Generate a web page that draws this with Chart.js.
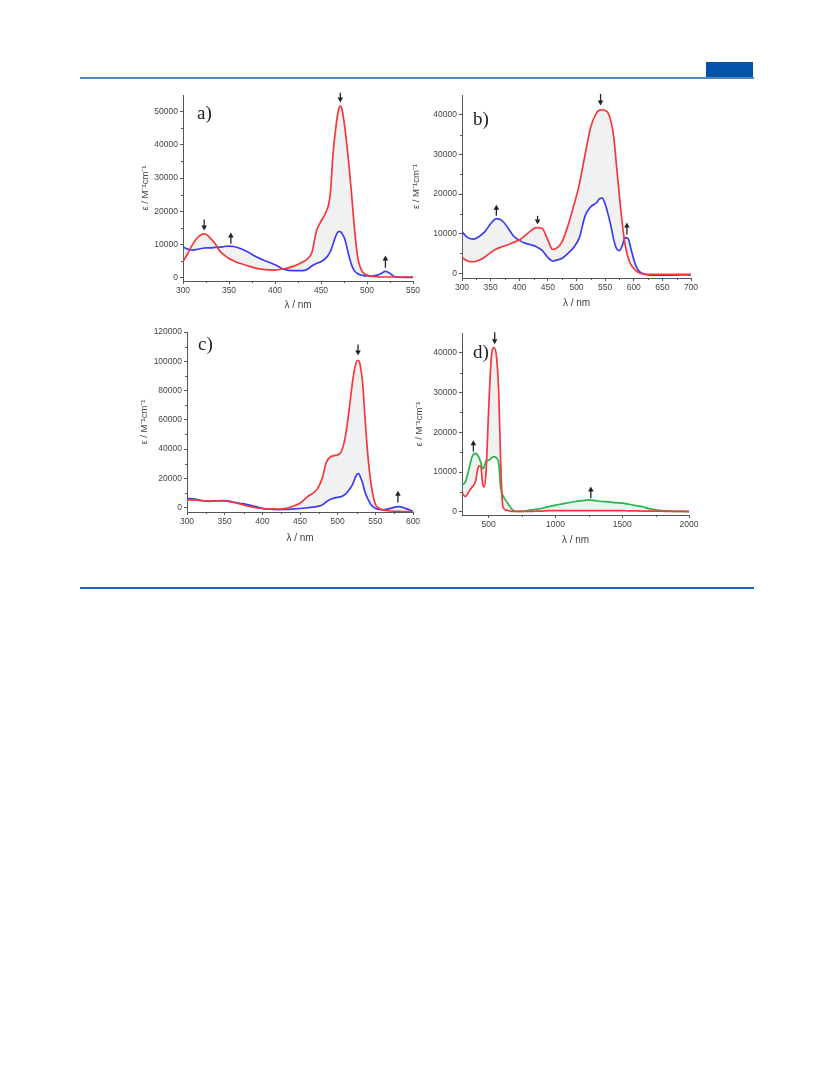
<!DOCTYPE html>
<html>
<head>
<meta charset="utf-8">
<script src="https://cdn.jsdelivr.net/npm/chart.js@4/dist/chart.umd.min.js"></script>
<style>
  body { margin: 0; background: #fff; width: 833px; height: 1091px; position: relative; overflow: hidden; }
  canvas { position: absolute; }
  .rule { position: absolute; left: 80px; width: 674px; height: 2px; }
  #topline { top: 77px; background: #4f86c8; }
  #botline { top: 587px; background: #1d63c4; }
  #tab { position: absolute; left: 706px; top: 62px; width: 47px; height: 16px; background: #0353a8; }
  .lbl { position: absolute; font-family: "Liberation Serif", "DejaVu Serif", serif; font-size: 19px; line-height: 19px; color: #222; }
</style>
</head>
<body>
<div id="tab"></div>
<div id="topline" class="rule"></div>
<div id="botline" class="rule"></div>

<canvas id="cA" width="295" height="230" style="left:135px;top:88px"></canvas>
<canvas id="cB" width="310" height="230" style="left:406px;top:88px"></canvas>
<canvas id="cC" width="295" height="230" style="left:135px;top:322px"></canvas>
<canvas id="cD" width="300" height="230" style="left:409px;top:322px"></canvas>

<div class="lbl" style="left:197px;top:103px">a)</div>
<div class="lbl" style="left:473px;top:109px">b)</div>
<div class="lbl" style="left:198px;top:334px">c)</div>
<div class="lbl" style="left:473px;top:342px">d)</div>

<script>
// ---- panel a ----
const wlA = [300,305,310,315,320,323,326,330,335,340,345,350,355,360,370,380,390,400,410,420,430,435,440,445,450,455,460,463,466,469,471,473,476,480,483,486,490,495,500,505,510,515,520,525,530,540,550];
const redA = [4800,7200,9800,11800,13000,13200,12900,11800,10200,8000,6800,5800,5100,4500,3600,2800,2400,2300,2700,3400,4700,5600,7500,14000,17000,19500,25000,37000,45000,50500,51700,50500,45000,35000,26000,16000,6000,1800,800,400,300,200,200,200,200,200,200];
const blueA = [9200,8600,8300,8500,8800,8900,9000,9000,9100,9200,9400,9500,9400,9000,7800,6200,5000,3900,2500,2100,2100,2500,3500,4300,4800,5800,7800,10000,12500,13900,13900,13200,11500,7000,4000,2200,1200,700,500,500,700,1200,1900,1300,300,100,100];
const xTicksA = [300,350,400,450,500,550];
const yTicksA = [0,10000,20000,30000,40000,50000];
const arrowsA = [[323,17500,14200],[352,10200,13600],[471,55700,52800],[520,3000,6700]];

// ---- panel b ----
const wlB = [300,310,320,330,340,350,360,370,380,390,400,410,420,430,440,450,458,465,475,485,495,505,515,525,535,540,545,550,555,560,565,570,575,580,585,590,595,600,605,610,620,630,650,700];
const redB = [4000,3100,2900,3300,4100,5200,6100,6700,7200,7800,8400,9500,10700,11500,11300,8400,6000,6300,8000,12000,17000,22500,30000,37000,40500,41200,41300,41100,40500,38500,34500,27000,19500,12500,7100,4000,2200,1200,500,100,-200,-250,-250,-250];
const blueB = [10500,9000,8600,9300,10500,12500,13800,13300,11500,9400,8300,7600,7200,6700,5800,4000,3100,3300,3800,5000,6500,9000,14500,16800,17800,18800,19000,17500,15000,12000,8500,6200,5700,7000,9000,8800,6200,3500,1500,400,-300,-500,-500,-400];
const xTicksB = [300,350,400,450,500,550,600,650,700];
const yTicksB = [0,10000,20000,30000,40000];
const arrowsB = [[360,14500,17300],[432,14500,12300],[542,45300,42400],[588,9800,12800]];

// ---- panel c ----
const wlC = [300,310,320,330,340,350,360,370,380,390,400,410,420,430,440,450,460,470,475,480,485,490,495,500,505,510,515,520,523,526,528,530,533,536,540,545,550,555,560,570,580,590,600];
const redC = [5200,5300,4700,4300,4500,4500,3700,2500,1200,200,-600,-1000,-1000,-600,800,3000,7500,11000,14500,21000,31000,34500,35500,36000,38500,48000,66000,87000,96000,100500,100500,97000,86000,64000,36000,14000,2500,-500,-1500,-2300,-2600,-2700,-2800];
const blueC = [6400,5800,4800,4400,4700,4800,4000,3000,2000,800,-500,-1100,-1400,-1300,-1000,-600,-100,500,1000,2000,4000,5500,6500,7000,7500,9000,12000,16000,20000,23000,23300,21000,17000,11000,6000,1500,-500,-1300,-1500,-500,700,-500,-2600];
const xTicksC = [300,350,400,450,500,550,600];
const yTicksC = [0,20000,40000,60000,80000,100000,120000];
const arrowsC = [[527,111500,104000],[580,3500,11500]];

// ---- panel d ----
const wlD = [300,325,350,375,400,425,440,455,465,480,500,520,540,560,575,590,605,625,650,675,700,750,800,850,900,950,1000,1050,1100,1150,1200,1250,1300,1350,1400,1450,1500,1550,1600,1650,1700,1750,1800,1850,1900,1950,2000];
const redD = [4700,3800,5000,6200,7500,11500,11500,7000,6300,10000,26000,39000,41300,38500,30000,12000,1500,500,300,100,100,100,100,150,200,300,300,300,300,300,300,300,300,300,300,300,300,250,250,200,200,150,150,100,100,100,100];
const greenD = [6800,7500,10500,13800,14700,13800,12500,10800,11200,12800,13000,13500,13900,13500,12200,6000,4200,3000,1800,600,100,100,400,600,900,1300,1700,2000,2300,2600,2800,3000,2800,2600,2500,2300,2200,1900,1600,1300,800,500,300,200,100,100,0];
const xTicksD = [500,1000,1500,2000];
const yTicksD = [0,10000,20000,30000,40000];
const arrowsD = [[545,45200,42200],[385,15200,18000],[1265,3400,6400]];

const RED = '#f5383b', BLUE = '#3c3cf0', GREEN = '#25b54a';
const FAN = 'rgba(160,160,160,0.15)', AXIS = '#555', TXT = '#444';

Chart.defaults.font.family = '"Liberation Sans", Arial, sans-serif';

// minor ticks halfway between labelled ones, plus the little arrows
const extras = {
  id: 'extras',
  afterDraw(chart, args, opts) {
    const ctx = chart.ctx, x = chart.scales.x, y = chart.scales.y, area = chart.chartArea;
    ctx.save();
    ctx.strokeStyle = AXIS;
    ctx.lineWidth = 1;
    const xt = x.ticks.map(t => t.value);
    for (let i = 0; i < xt.length - 1; i++) {
      const px = Math.round(x.getPixelForValue((xt[i] + xt[i + 1]) / 2)) + 0.5;
      ctx.beginPath(); ctx.moveTo(px, area.bottom); ctx.lineTo(px, area.bottom + 2); ctx.stroke();
    }
    const yt = y.ticks.map(t => t.value);
    for (let i = 0; i < yt.length - 1; i++) {
      const py = Math.round(y.getPixelForValue((yt[i] + yt[i + 1]) / 2)) + 0.5;
      ctx.beginPath(); ctx.moveTo(area.left, py); ctx.lineTo(area.left - 2, py); ctx.stroke();
    }
    ctx.strokeStyle = '#222';
    ctx.fillStyle = '#222';
    ctx.lineWidth = 1.3;
    (opts.arrows || []).forEach(a => {
      const px = x.getPixelForValue(a[0]);
      const p0 = y.getPixelForValue(a[1]), p1 = y.getPixelForValue(a[2]);
      const dir = p1 > p0 ? 1 : -1;
      ctx.beginPath(); ctx.moveTo(px, p0); ctx.lineTo(px, p1 - dir * 3); ctx.stroke();
      ctx.beginPath();
      ctx.moveTo(px, p1);
      ctx.lineTo(px - 2.8, p1 - dir * 5);
      ctx.lineTo(px + 2.8, p1 - dir * 5);
      ctx.closePath(); ctx.fill();
    });
    ctx.restore();
  }
};

function pts(wl, v) { return wl.map((w, i) => ({ x: w, y: v[i] })); }

function build(id, o) {
  new Chart(document.getElementById(id), {
    type: 'line',
    data: {
      datasets: [
        { data: pts(o.wl, o.top), borderColor: RED, borderWidth: 1.7, pointRadius: 0,
          cubicInterpolationMode: 'monotone', fill: false },
        { data: pts(o.wl, o.bottom), borderColor: o.color, borderWidth: 1.7, pointRadius: 0,
          cubicInterpolationMode: 'monotone', fill: '-1', backgroundColor: FAN }
      ]
    },
    options: {
      responsive: false,
      animation: false,
      events: [],
      layout: { padding: { top: o.padT, right: o.padR, left: 0, bottom: 0 } },
      plugins: { legend: { display: false }, tooltip: { enabled: false }, extras: { arrows: o.arrows } },
      scales: {
        x: {
          type: 'linear', min: o.xr[0], max: o.xr[1],
          afterFit: s => { s.height = o.xH; },
          afterBuildTicks: s => { s.ticks = o.xt.map(v => ({ value: v })); },
          grid: { drawOnChartArea: false, tickLength: 3, color: AXIS },
          border: { color: AXIS },
          ticks: { color: TXT, font: { size: 8.5 }, padding: 2, maxRotation: 0, autoSkip: false, callback: v => v },
          title: { display: true, text: 'λ / nm', color: TXT, font: { size: 10 }, padding: { top: 0, bottom: o.xTP } }
        },
        y: {
          type: 'linear', min: o.yr[0], max: o.yr[1],
          afterFit: s => { s.width = o.yW; },
          afterBuildTicks: s => { s.ticks = o.yt.map(v => ({ value: v })); },
          grid: { drawOnChartArea: false, tickLength: 3, color: AXIS },
          border: { color: AXIS },
          ticks: { color: TXT, font: { size: 8.5 }, padding: 2, autoSkip: false, callback: v => v },
          title: { display: true, text: 'ε / M⁻¹cm⁻¹', color: TXT, font: { size: 9.5 }, padding: { top: o.yTP, bottom: 0 } }
        }
      }
    },
    plugins: [extras]
  });
}

build('cA', { wl: wlA, top: redA, bottom: blueA, color: BLUE, xt: xTicksA, yt: yTicksA,
  xr: [300, 550], yr: [-1000, 55000], arrows: arrowsA, padT: 7, padR: 17, xH: 37, yW: 48, xTP: 7, yTP: 5 });
build('cB', { wl: wlB, top: redB, bottom: blueB, color: BLUE, xt: xTicksB, yt: yTicksB,
  xr: [300, 700], yr: [-1200, 45000], arrows: arrowsB, padT: 6, padR: 25, xH: 40, yW: 56, xTP: 9, yTP: 5 });
build('cC', { wl: wlC, top: redC, bottom: blueC, color: BLUE, xt: xTicksC, yt: yTicksC,
  xr: [300, 600], yr: [-3000, 120000], arrows: arrowsC, padT: 10, padR: 17, xH: 40, yW: 52, xTP: 8, yTP: 4 });
build('cD', { wl: wlD, top: redD, bottom: greenD, color: GREEN, xt: xTicksD, yt: yTicksD,
  xr: [300, 2000], yr: [-800, 45000], arrows: arrowsD, padT: 11, padR: 20, xH: 37, yW: 53, xTP: 6, yTP: 5 });
</script>
</body>
</html>
